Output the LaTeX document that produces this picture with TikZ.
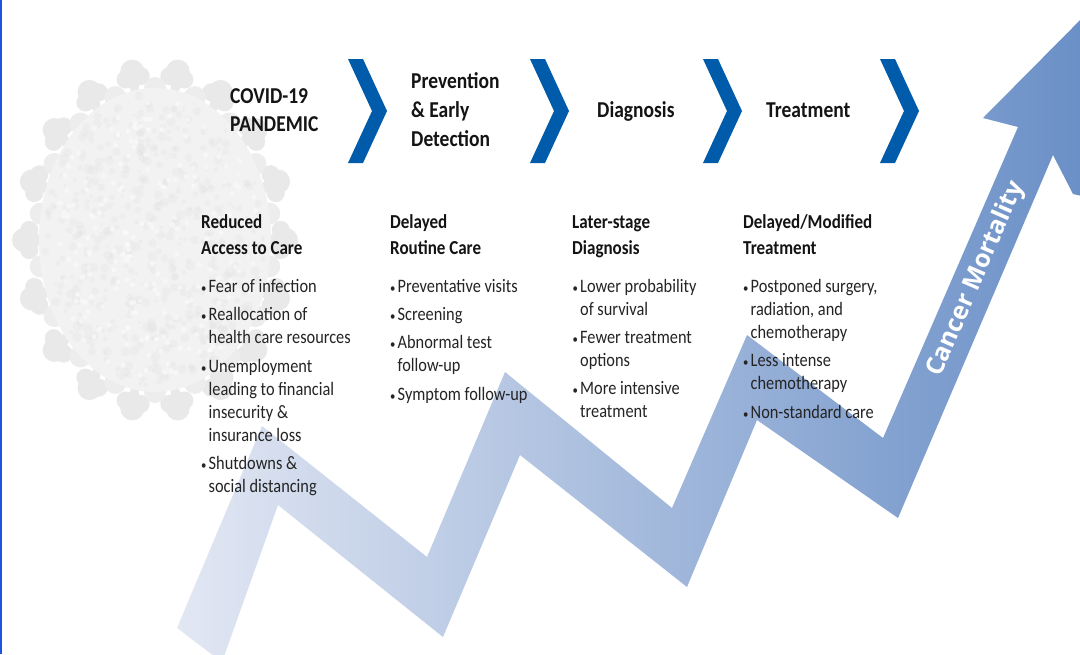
\documentclass[tikz,border=0pt]{standalone}
\usepackage{fontspec}
\setmainfont{Carlito}[FakeStretch=0.86]
\newfontfamily\labelfont{Open Sans}
\usetikzlibrary{calc}
\definecolor{chev}{RGB}{0,92,170}
\definecolor{ink}{RGB}{20,20,20}
\definecolor{bodyink}{RGB}{36,36,36}
\definecolor{bandL}{RGB}{226,231,243}
\definecolor{bandR}{RGB}{104,142,198}
\definecolor{edgeblue}{RGB}{30,84,222}

% one bulleted line: name, x, baseline y, text
\newcommand\bulletitem[4]{%
  \node[dotmark] (#1b) at (#2,#3) {•};
  \node[bodytxt] (#1) at (#2+7.5,#3) {#4};}

\begin{document}
\begin{tikzpicture}[x=1pt,y=-1pt,
  toptitle/.style={anchor=base west, inner sep=0pt, font=\bfseries\fontsize{22.7}{22.7}\selectfont, text=ink},
  colhead/.style={anchor=base west, inner sep=0pt, font=\bfseries\fontsize{19.8}{19.8}\selectfont, text=ink},
  bodytxt/.style={anchor=base west, inner sep=0pt, font=\fontsize{19}{19}\selectfont, text=bodyink},
  dotmark/.style={anchor=base west, inner sep=0pt, font=\fontsize{12.5}{12.5}\selectfont, text=bodyink},
  chevron/.style={fill=chev, draw=none},
  spike/.style={fill=gray!17, draw=none},
]
\useasboundingbox (0,0) rectangle (1080,654);
\fill[white] (0,0) rectangle (1080,654);

% ---- faint virus particle on the left ----
\coordinate (vc) at (155,240);
\foreach \a in {0,20,...,340} {
  \fill[spike] ($(vc)+(\a:104 and 138)$) -- ($(vc)+(\a+4:132 and 172)$) -- ($(vc)+(\a-4:132 and 172)$) -- cycle;
  \fill[spike] ($(vc)+(\a:131 and 171)$) circle (12);
  \fill[spike] ($(vc)+(\a+3.5:126 and 165)$) circle (9);
  \fill[spike] ($(vc)+(\a-3.5:126 and 165)$) circle (9);
}
\foreach \a in {10,30,...,350} {
  \fill[gray!14] ($(vc)+(\a:116 and 152)$) circle (11);
}
\fill[gray!10] (vc) ellipse (116 and 152);
\pgfmathsetseed{7}
\foreach \i in {1,...,480} {
  \pgfmathsetmacro\ang{rnd*360}
  \pgfmathsetmacro\rr{sqrt(rnd)}
  \pgfmathsetmacro\sz{1.5+rnd*3.5}
  \fill[gray!22, opacity=0.3] ($(vc)+(\ang:{\rr*110} and {\rr*146})$) circle (\sz);
}
\foreach \i in {1,...,200} {
  \pgfmathsetmacro\ang{rnd*360}
  \pgfmathsetmacro\rr{sqrt(rnd)}
  \fill[white, opacity=0.45] ($(vc)+(\ang:{\rr*104} and {\rr*140})$) circle (2.5);
}

% ---- thin blue rule on the left edge ----
\fill[edgeblue] (0,0) rectangle (2.4,654);

% ---- rising zigzag arrow ----
\begin{scope}
\clip (0,0) rectangle (1080,654);
\shade[left color=bandL, right color=bandR]
  (177,628) -- (262,426) -- (427,557) -- (505,372) -- (672,508)
  -- (747,335) -- (883,438) -- (1018,127) -- (983,118) -- (1100,0)
  -- (1100,200) -- (1073,194) -- (1053,155) -- (898,518) -- (757,420)
  -- (687,587) -- (520,455) -- (443,637) -- (278,505) -- (222,662) -- cycle;
\end{scope}
\node[rotate=66.5, inner sep=0pt, text=white,
      font=\labelfont\bfseries\fontsize{25}{25}\selectfont] (mort) at (976,279) {Cancer Mortality};

% ---- chevrons ----
\foreach \x in {348,530,703,880} {
  \fill[chevron] (\x,59) -- (\x+15,59) -- (\x+39,111) -- (\x+15,163)
    -- (\x,163) -- (\x+24,111) -- cycle;
}

% ---- stage titles ----
\node[toptitle] (covidA) at (230,103) {COVID-19};
\node[toptitle] (covidB) at (230,131) {PANDEMIC};
\node[toptitle] (prevA) at (411,88) {Prevention};
\node[toptitle] (prevB) at (411,117) {\& Early};
\node[toptitle] (prevC) at (411,146) {Detection};
\node[toptitle] (diag) at (597,117) {Diagnosis};
\node[toptitle] (treat) at (766,117) {Treatment};

% ---- column 1 ----
\node[colhead] (hA1) at (201,228) {Reduced};
\node[colhead] (hA2) at (201,254) {Access to Care};
\bulletitem{aA}{201}{292}{Fear of infection}
\bulletitem{aB}{201}{320}{Reallocation of}
\node[bodytxt] (aB2) at (208.5,343) {health care resources};
\bulletitem{aC}{201}{372}{Unemployment}
\node[bodytxt] (aC2) at (208.5,395) {leading to financial};
\node[bodytxt] (aC3) at (208.5,418) {insecurity \&};
\node[bodytxt] (aC4) at (208.5,441) {insurance loss};
\bulletitem{aD}{201}{469}{Shutdowns \&}
\node[bodytxt] (aD2) at (208.5,492) {social distancing};

% ---- column 2 ----
\node[colhead] (hB1) at (390,228) {Delayed};
\node[colhead] (hB2) at (390,254) {Routine Care};
\bulletitem{bA}{390}{292}{Preventative visits}
\bulletitem{bB}{390}{320}{Screening}
\bulletitem{bC}{390}{348}{Abnormal test}
\node[bodytxt] (bC2) at (397.5,371) {follow-up};
\bulletitem{bD}{390}{400}{Symptom follow-up}

% ---- column 3 ----
\node[colhead] (hC1) at (572,228) {Later-stage};
\node[colhead] (hC2) at (572,254) {Diagnosis};
\bulletitem{cA}{572.5}{292}{Lower probability}
\node[bodytxt] (cA2) at (580,315) {of survival};
\bulletitem{cB}{572.5}{343}{Fewer treatment}
\node[bodytxt] (cB2) at (580,366) {options};
\bulletitem{cC}{572.5}{394}{More intensive}
\node[bodytxt] (cC2) at (580,417) {treatment};

% ---- column 4 ----
\node[colhead] (hD1) at (743,228) {Delayed/Modified};
\node[colhead] (hD2) at (743,254) {Treatment};
\bulletitem{dA}{743}{292}{Postponed surgery,}
\node[bodytxt] (dA2) at (750.5,315) {radiation, and};
\node[bodytxt] (dA3) at (750.5,338) {chemotherapy};
\bulletitem{dB}{743}{366}{Less intense}
\node[bodytxt] (dB2) at (750.5,389) {chemotherapy};
\bulletitem{dC}{743}{418}{Non-standard care}
\end{tikzpicture}
\end{document}
